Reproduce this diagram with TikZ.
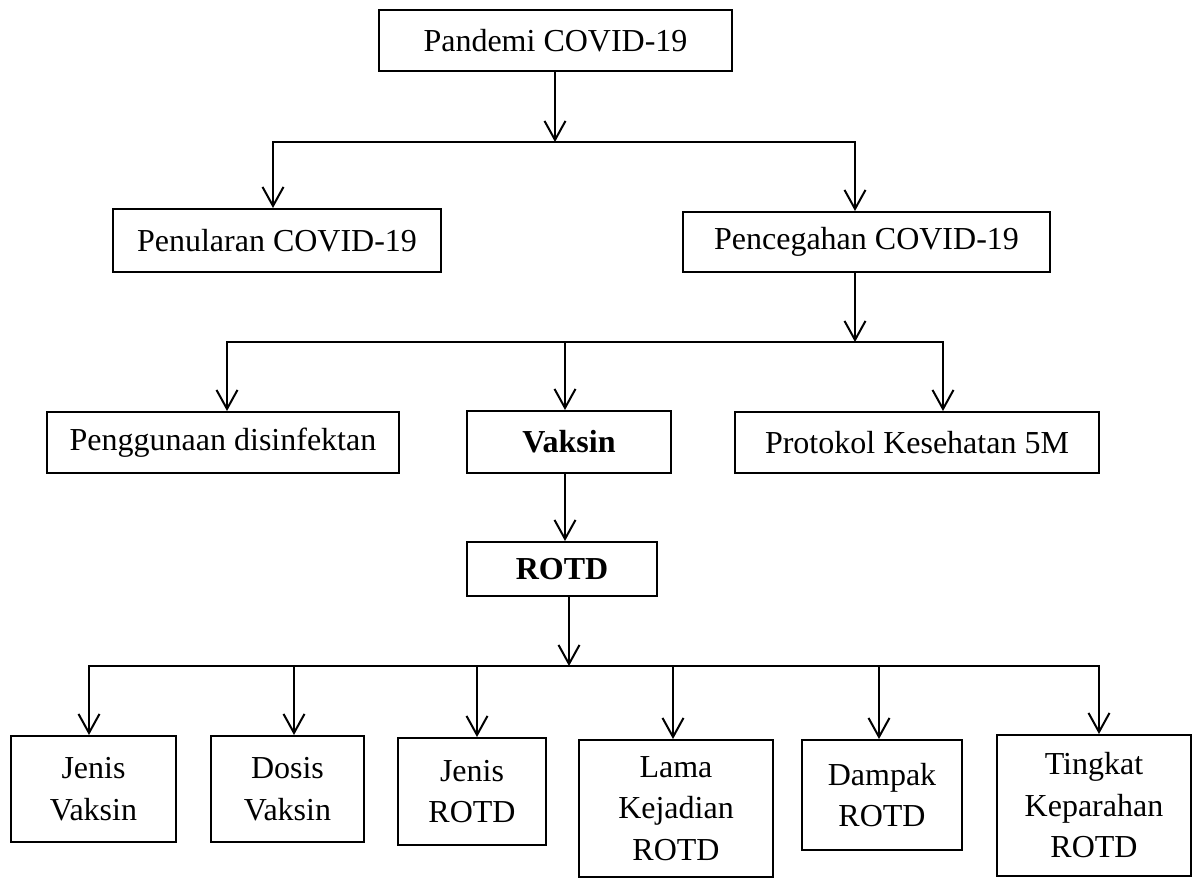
\documentclass[tikz,border=0pt]{standalone}
\usepackage{fontspec}
\setmainfont{Liberation Serif}
\usetikzlibrary{arrows.meta}
\tikzset{
  box/.style={draw, line width=2pt, inner sep=0pt, align=center,
    font=\fontsize{32}{41.5}\selectfont},
  bar/.style={line width=2pt, line cap=rect},
  arr/.style={line width=2pt, -{Straight Barb[length=19pt,width=21pt]}},
}
\begin{document}
\begin{tikzpicture}[x=1pt,y=-1pt]
\useasboundingbox (0,0) rectangle (1193,878);
% level 0
\node[box, minimum width=353pt, minimum height=61pt] (pandemi) at (555.5,40.5) {Pandemi COVID-19};
% level 1
\node[box, minimum width=328pt, minimum height=63pt] (penularan) at (277,240.5) {Penularan COVID-19};
\node[box, minimum width=367pt, minimum height=60pt] (pencegahan) at (866.5,242) {Pencegahan COVID-19};
% level 2
\node[box, minimum width=352pt, minimum height=61pt] (penggunaan) at (223,442.5) {Penggunaan disinfektan};
\node[box, minimum width=204pt, minimum height=62pt] (vaksin) at (569,442) {\textbf{Vaksin}};
\node[box, minimum width=364pt, minimum height=61pt] (protokol) at (917,442.5) {Protokol Kesehatan 5M};
% level 3
\node[box, minimum width=190pt, minimum height=54pt] (rotd) at (562,569) {\textbf{ROTD}};
% level 4
\node[box, minimum width=165pt, minimum height=106pt] (jv) at (93.5,789) {Jenis\\Vaksin};
\node[box, minimum width=153pt, minimum height=106pt] (dv) at (287.5,789) {Dosis\\Vaksin};
\node[box, minimum width=148pt, minimum height=107pt] (jr) at (472,791.5) {Jenis\\ROTD};
\node[box, minimum width=194pt, minimum height=137pt] (lk) at (676,808.5) {Lama\\Kejadian\\ROTD};
\node[box, minimum width=160pt, minimum height=110pt] (dr) at (882,795) {Dampak\\ROTD};
\node[box, minimum width=194pt, minimum height=141pt] (tk) at (1094,805.5) {Tingkat\\Keparahan\\ROTD};
% junction coordinates
\coordinate (j1) at (555,142);
\coordinate (b1l) at (273,142);
\coordinate (b1r) at (855,142);
\coordinate (j2) at (855,342);
\coordinate (b2l) at (227,342);
\coordinate (b2m) at (565,342);
\coordinate (b2r) at (943,342);
\coordinate (j3) at (569,666);
\coordinate (b3a) at (89,666);
\coordinate (b3b) at (294,666);
\coordinate (b3c) at (477,666);
\coordinate (b3d) at (673,666);
\coordinate (b3e) at (879,666);
\coordinate (b3f) at (1099,666);
% connectors level 0 -> 1
\draw[arr] (pandemi.south -| j1) -- (j1);
\draw[bar] (b1l) -- (b1r);
\draw[arr] (b1l) -- (b1l |- penularan.north);
\draw[arr] (b1r) -- (b1r |- pencegahan.north);
% level 1 -> 2
\draw[arr] (pencegahan.south -| j2) -- (j2);
\draw[bar] (b2l) -- (b2r);
\draw[arr] (b2l) -- (b2l |- penggunaan.north);
\draw[arr] (b2m) -- (b2m |- vaksin.north);
\draw[arr] (b2r) -- (b2r |- protokol.north);
% level 2 -> 3
\draw[arr] (vaksin.south -| b2m) -- (b2m |- rotd.north);
% level 3 -> 4
\draw[arr] (rotd.south -| j3) -- (j3);
\draw[bar] (b3a) -- (b3f);
\draw[arr] (b3a) -- (b3a |- jv.north);
\draw[arr] (b3b) -- (b3b |- dv.north);
\draw[arr] (b3c) -- (b3c |- jr.north);
\draw[arr] (b3d) -- (b3d |- lk.north);
\draw[arr] (b3e) -- (b3e |- dr.north);
\draw[arr] (b3f) -- (b3f |- tk.north);
\end{tikzpicture}
\end{document}
